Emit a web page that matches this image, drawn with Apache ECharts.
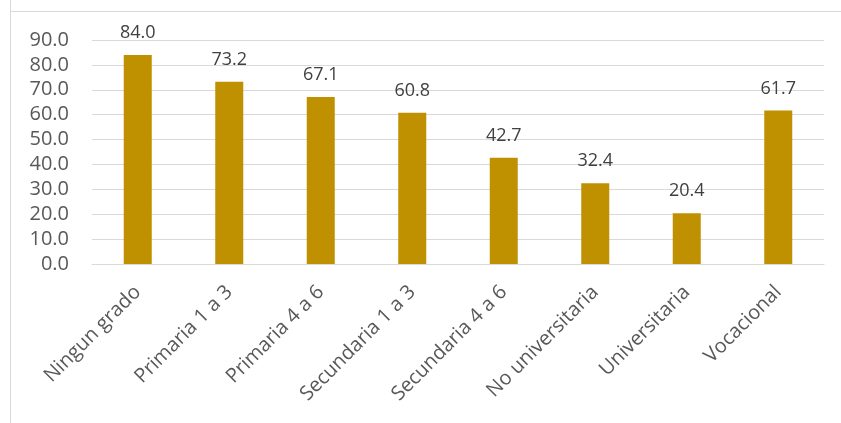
<!DOCTYPE html>
<html>
<head>
<meta charset="utf-8">
<script src="https://cdn.jsdelivr.net/npm/echarts@6/dist/echarts.min.js"></script>
<style>
html,body{margin:0;padding:0;background:#fff;}
#c{width:841px;height:423px;}
</style>
</head>
<body>
<div id="c"></div>
<script>
const categories = ["Ningun grado","Primaria 1 a 3","Primaria 4 a 6","Secundaria 1 a 3","Secundaria 4 a 6","No universitaria","Universitaria","Vocacional"];
const values = [84.0, 73.2, 67.1, 60.8, 42.7, 32.4, 20.4, 61.7];
const yTicks = [0,10,20,30,40,50,60,70,80,90];

const FONT = '"Open Sans", sans-serif';
const chart = echarts.init(document.getElementById('c'), null, {renderer:'canvas'});
chart.setOption({
  animation: false,
  backgroundColor: '#fff',
  graphic: [
    {type:'line', shape:{x1:10.5,y1:0,x2:10.5,y2:423}, style:{stroke:'#d9d9d9',lineWidth:1}, silent:true},
    {type:'line', shape:{x1:10,y1:11.5,x2:841,y2:11.5}, style:{stroke:'#d9d9d9',lineWidth:1}, silent:true}
  ],
  grid: {left: 92, right: 17, top: 40, bottom: 159, containLabel: false},
  xAxis: {
    type: 'category',
    data: categories,
    axisLine: {show: true, lineStyle: {color: '#d9d9d9', width: 1}},
    axisTick: {show: false},
    axisLabel: {rotate: 45, margin: 25, fontFamily: FONT, fontSize: 20, color: '#595959', interval: 0}
  },
  yAxis: {
    type: 'value',
    min: yTicks[0],
    max: yTicks[yTicks.length-1],
    interval: 10,
    axisLine: {show: false},
    axisTick: {show: false},
    splitLine: {lineStyle: {color: '#d9d9d9', width: 1}},
    axisLabel: {margin: 23, fontFamily: FONT, fontSize: 20, color: '#595959', formatter: v => v.toFixed(1)}
  },
  series: [{
    type: 'bar',
    data: values,
    barWidth: 28,
    itemStyle: {color: '#BF9000'},
    label: {show: true, position: 'top', distance: 13, fontFamily: FONT, fontSize: 18, color: '#404040', formatter: p => p.value.toFixed(1)}
  }]
});
</script>
</body>
</html>
